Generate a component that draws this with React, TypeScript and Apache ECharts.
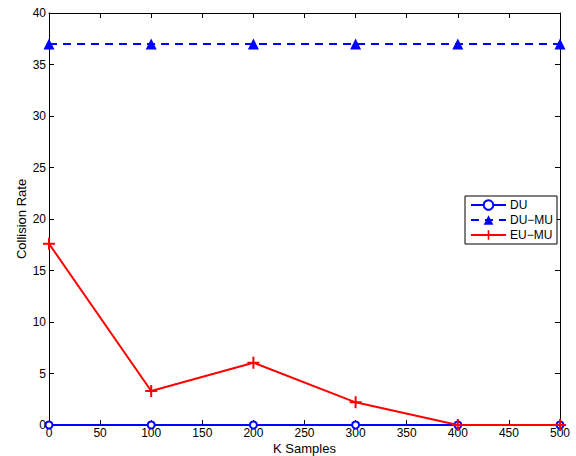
import React, { useEffect, useRef } from "react";
import * as echarts from "echarts";

const kSamples = [0, 100, 200, 300, 400, 500];
const duValues = [0, 0, 0, 0, 0, 0];
const duMuValues = [37, 37, 37, 37, 37, 37];
const euMuValues = [17.6, 3.3, 6.05, 2.2, 0, 0];

const PLUS = "path://M5,0h2v5h5v2h-5v5h-2v-5h-5v-2h5z";

export default function App() {
  const ref = useRef<HTMLDivElement>(null);
  useEffect(() => {
    if (!ref.current) return;
    const chart = echarts.init(ref.current, undefined, { renderer: "svg" });
    const font = "Liberation Sans, Arial, sans-serif";
    const zip = (vals: number[]) => kSamples.map((k, i) => [k, vals[i]]);
    const axisLine = { show: true, onZero: false, lineStyle: { color: "#000", width: 1 } };
    const axisTick = { show: true, inside: true, length: 5, lineStyle: { color: "#000" } };
    chart.setOption({
      animation: false,
      backgroundColor: "#fff",
      textStyle: { fontFamily: font },
      grid: { left: 49, right: 16, top: 13, bottom: 31, containLabel: false, outerBoundsMode: "none" },
      legend: {
        orient: "vertical",
        left: 465,
        top: 196,
        padding: [3, 4, 3, 5],
        itemGap: 3,
        itemWidth: 35,
        itemHeight: 12,
        borderColor: "#000",
        borderWidth: 1,
        backgroundColor: "#fff",
        textStyle: { fontSize: 12, color: "#000", fontFamily: font, padding: [0, 0, 0, -1] },
        data: ["DU", "DU\u2212MU", "EU\u2212MU"],
      },
      xAxis: [
        {
          type: "value",
          min: 0,
          max: 500,
          interval: 50,
          name: "K Samples",
          nameLocation: "middle",
          nameGap: 17,
          nameMoveOverlap: false,
          nameTextStyle: { fontSize: 13, color: "#000", fontFamily: font },
          axisLine,
          axisTick,
          splitLine: { show: false },
          axisLabel: { fontSize: 12, color: "#000", margin: 2, fontFamily: font },
        },
        {
          type: "value",
          position: "top",
          min: 0,
          max: 500,
          interval: 50,
          axisLine,
          axisTick,
          splitLine: { show: false },
          axisLabel: { show: false },
        },
      ],
      yAxis: [
        {
          type: "value",
          min: 0,
          max: 40,
          interval: 5,
          name: "Collision Rate",
          nameLocation: "middle",
          nameGap: 21,
          nameMoveOverlap: false,
          nameTextStyle: { fontSize: 13, color: "#000", fontFamily: font },
          axisLine,
          axisTick,
          splitLine: { show: false },
          axisLabel: { fontSize: 12, color: "#000", margin: 3, fontFamily: font },
        },
        {
          type: "value",
          position: "right",
          min: 0,
          max: 40,
          interval: 5,
          axisLine,
          axisTick,
          splitLine: { show: false },
          axisLabel: { show: false },
        },
      ],
      series: [
        {
          name: "DU",
          type: "line",
          data: zip(duValues),
          symbol: "circle",
          symbolSize: 7,
          showAllSymbol: true,
          lineStyle: { color: "#0000ff", width: 2 },
          itemStyle: { color: "#fff", borderColor: "#0000ff", borderWidth: 2 },
          z: 2,
        },
        {
          name: "DU\u2212MU",
          type: "line",
          data: zip(duMuValues),
          symbol: "triangle",
          symbolSize: 11,
          lineStyle: { color: "#0000ff", width: 2, type: [8, 6] },
          itemStyle: { color: "#0000ff" },
          z: 3,
        },
        {
          name: "EU\u2212MU",
          type: "line",
          data: zip(euMuValues),
          symbol: PLUS,
          symbolSize: 12,
          lineStyle: { color: "#ff0000", width: 2 },
          itemStyle: { color: "#ff0000" },
          z: 4,
        },
      ],
    });
    return () => chart.dispose();
  }, []);
  return <div ref={ref} style={{ width: 576, height: 456, position: "absolute", left: 0, top: 0 }} />;
}
